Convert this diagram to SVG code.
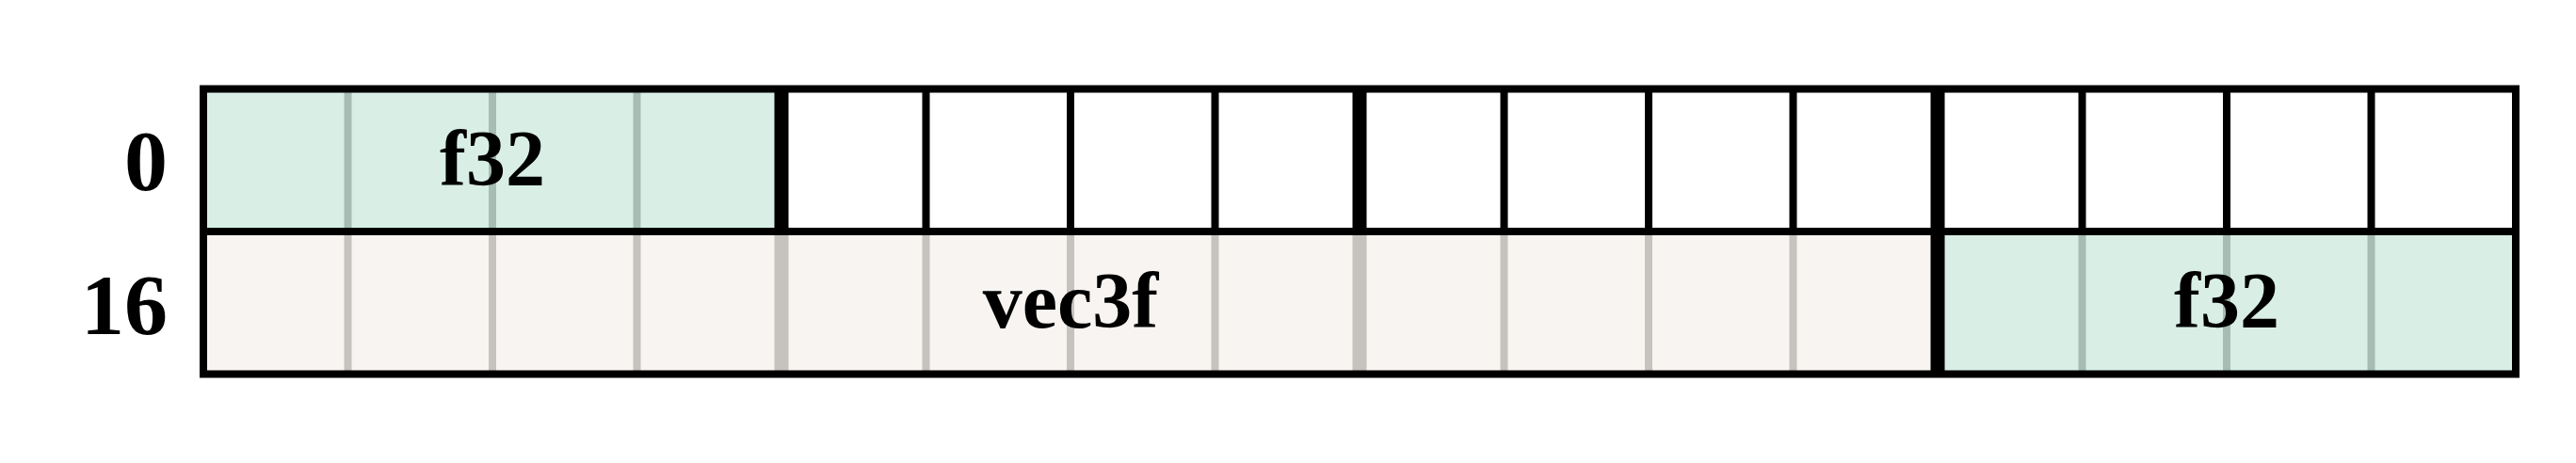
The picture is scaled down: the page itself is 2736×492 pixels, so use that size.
<svg xmlns="http://www.w3.org/2000/svg" width="2736" height="492" viewBox="0 0 2736 492">
  <style>
    .lbl { font-family: "Liberation Serif", "Times New Roman", serif; font-weight: bold; font-size: 84px; fill: #000; }
    .row { font-size: 92px; }
    .mid { text-anchor: middle; }
    .end { text-anchor: end; }
    .blk { stroke: #000; }
    .gg { stroke: #a6bdb3; }
    .bg { stroke: #c6c2be; }
    .thin { stroke-width: 8; }
    .thick { stroke-width: 15; }
    .green { fill: #d9efe6; }
    .beige { fill: #f7f4f1; }
  </style>
  <rect x="0" y="0" width="2736" height="492" fill="#ffffff"/>

  <g id="row-labels">
    <text class="lbl row end" x="178" y="202">0</text>
    <text class="lbl row end" x="178" y="355">16</text>
  </g>

  <g id="field-f32-a">
    <rect class="green" x="216" y="94.5" width="614" height="151.5"/>
    <line class="gg thin" x1="369.5" y1="94.5" x2="369.5" y2="246"/>
    <line class="gg thin" x1="523" y1="94.5" x2="523" y2="246"/>
    <line class="gg thin" x1="676.5" y1="94.5" x2="676.5" y2="246"/>
    <text class="lbl mid" x="523" y="197">f32</text>
  </g>

  <g id="empty-cells">
    <line class="blk thin" x1="983.5" y1="94.5" x2="983.5" y2="246"/>
    <line class="blk thin" x1="1137" y1="94.5" x2="1137" y2="246"/>
    <line class="blk thin" x1="1290.5" y1="94.5" x2="1290.5" y2="246"/>
    <line class="blk thick" x1="1444" y1="94.5" x2="1444" y2="246"/>
    <line class="blk thin" x1="1597.5" y1="94.5" x2="1597.5" y2="246"/>
    <line class="blk thin" x1="1751" y1="94.5" x2="1751" y2="246"/>
    <line class="blk thin" x1="1904.5" y1="94.5" x2="1904.5" y2="246"/>
    <line class="blk thin" x1="2211.5" y1="94.5" x2="2211.5" y2="246"/>
    <line class="blk thin" x1="2365" y1="94.5" x2="2365" y2="246"/>
    <line class="blk thin" x1="2518.5" y1="94.5" x2="2518.5" y2="246"/>
  </g>

  <g id="field-vec3f">
    <rect class="beige" x="216" y="246" width="1842" height="151.5"/>
    <line class="bg thin" x1="369.5" y1="246" x2="369.5" y2="397.5"/>
    <line class="bg thin" x1="523" y1="246" x2="523" y2="397.5"/>
    <line class="bg thin" x1="676.5" y1="246" x2="676.5" y2="397.5"/>
    <line class="bg thick" x1="830" y1="246" x2="830" y2="397.5"/>
    <line class="bg thin" x1="983.5" y1="246" x2="983.5" y2="397.5"/>
    <line class="bg thin" x1="1137" y1="246" x2="1137" y2="397.5"/>
    <line class="bg thin" x1="1290.5" y1="246" x2="1290.5" y2="397.5"/>
    <line class="bg thick" x1="1444" y1="246" x2="1444" y2="397.5"/>
    <line class="bg thin" x1="1597.5" y1="246" x2="1597.5" y2="397.5"/>
    <line class="bg thin" x1="1751" y1="246" x2="1751" y2="397.5"/>
    <line class="bg thin" x1="1904.5" y1="246" x2="1904.5" y2="397.5"/>
    <text class="lbl mid" x="1137" y="348">vec3f</text>
  </g>

  <g id="field-f32-b">
    <rect class="green" x="2058" y="246" width="614" height="151.5"/>
    <line class="gg thin" x1="2211.5" y1="246" x2="2211.5" y2="397.5"/>
    <line class="gg thin" x1="2365" y1="246" x2="2365" y2="397.5"/>
    <line class="gg thin" x1="2518.5" y1="246" x2="2518.5" y2="397.5"/>
    <text class="lbl mid" x="2365" y="348">f32</text>
  </g>

  <g id="grid-borders" fill="none">
    <line class="blk thick" x1="830" y1="94.5" x2="830" y2="246"/>
    <line class="blk thick" x1="2058" y1="94.5" x2="2058" y2="397.5"/>
    <line class="blk thin" x1="216" y1="246" x2="2672" y2="246"/>
    <rect class="blk thin" x="216" y="94.5" width="2456" height="303"/>
  </g>
</svg>
